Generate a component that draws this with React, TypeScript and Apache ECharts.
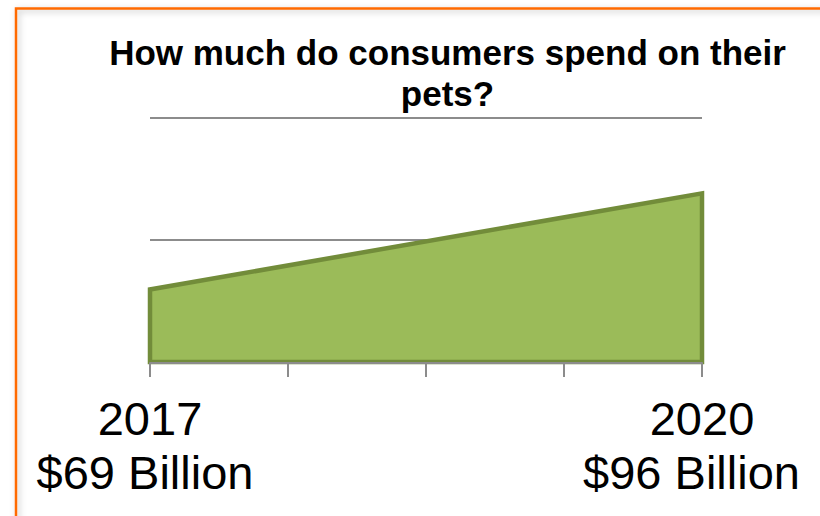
import React, { useEffect, useRef } from "react";
import * as echarts from "echarts";

// ---- data ----
const years = [2017, 2020];
const spendBillions = [69, 96];
const xTickStep = 0.75; // tick spacing in years along the axis
const yAxisMin = 48.6;
const yAxisMax = 117.2;
const gridValues = [82.9, 117.2];
const titleText = "How much do consumers spend on their\npets?";

const FONT = '"Liberation Sans", Arial, Helvetica, sans-serif';

export default function App() {
  const ref = useRef<HTMLDivElement>(null);

  useEffect(() => {
    if (!ref.current) return;
    const chart = echarts.init(ref.current, null, { renderer: "svg" });
    const span = years[years.length - 1] - years[0];
    const points = years.map((y, i) => [y - years[0], spendBillions[i]]);

    const labelFor = (v: number) => {
      const idx = years.findIndex((y) => Math.abs(y - years[0] - v) < 1e-6);
      if (idx < 0) return "";
      const amt = idx === 0 ? "amtL" : "amtR";
      return `{yr|${years[idx]}}\n{${amt}|$${spendBillions[idx]} Billion}`;
    };

    const baseText = { fontSize: 47, lineHeight: 54, color: "#000", fontFamily: FONT };

    chart.setOption({
      animation: false,
      grid: {
        left: 150,
        right: 118,
        top: 118,
        bottom: 154,
        containLabel: false,
        outerBoundsMode: "none",
      },
      xAxis: {
        type: "value",
        min: 0,
        max: span,
        interval: xTickStep,
        offset: 1,
        z: 5,
        axisLine: { show: true, lineStyle: { color: "#8c8c8c", width: 2 } },
        axisTick: { show: true, length: 14, lineStyle: { color: "#8c8c8c", width: 2 } },
        axisLabel: {
          formatter: labelFor,
          margin: 28,
          ...baseText,
          showMinLabel: true,
          showMaxLabel: true,
          hideOverlap: false,
          align: "center",
          rich: {
            yr: { ...baseText },
            amtL: { ...baseText, padding: [0, 10, 0, 0] },
            amtR: { ...baseText, padding: [0, 21, 0, 0] },
          },
        },
        splitLine: { show: false },
      },
      yAxis: { type: "value", min: yAxisMin, max: yAxisMax, show: false, splitLine: { show: false } },
      series: [
        {
          type: "custom",
          data: points,
          z: 3,
          renderItem: (params: any, api: any) => {
            if (params.dataIndex !== 0) return null;
            const first = points[0];
            const last = points[points.length - 1];
            const poly = [
              api.coord([first[0], yAxisMin]),
              ...points.map((p) => api.coord(p)),
              api.coord([last[0], yAxisMin]),
            ];
            const lines = gridValues.map((v) => {
              const a = api.coord([0, v]);
              const b = api.coord([span, v]);
              return {
                type: "line",
                shape: { x1: a[0], y1: a[1], x2: b[0], y2: b[1] },
                style: { stroke: "#8c8c8c", lineWidth: 2 },
              };
            });
            return {
              type: "group",
              children: [
                ...lines,
                {
                  type: "polygon",
                  shape: { points: poly },
                  style: { fill: "#9BBB59", stroke: "#728C3A", lineWidth: 4.5, lineJoin: "miter" },
                },
              ],
            };
          },
        },
      ],
      graphic: [
        {
          type: "rect",
          silent: true,
          z: -1,
          shape: { x: 16, y: 8.5, width: 900, height: 600 },
          style: {
            fill: "none",
            stroke: "#FF6A00",
            lineWidth: 2.5,
            shadowBlur: 6,
            shadowColor: "rgba(0,0,0,0.25)",
            shadowOffsetX: 2,
            shadowOffsetY: 2,
          },
        },
        {
          type: "text",
          x: 447.5,
          y: 32,
          silent: true,
          style: {
            text: titleText,
            fill: "#000",
            fontSize: 35,
            fontWeight: "bold",
            fontFamily: FONT,
            lineHeight: 41,
            align: "center",
            verticalAlign: "top",
          },
        },
      ],
    });

    return () => chart.dispose();
  }, []);

  return (
    <div
      ref={ref}
      style={{ position: "fixed", left: 0, top: 0, width: 820, height: 516, background: "#fff" }}
    />
  );
}
